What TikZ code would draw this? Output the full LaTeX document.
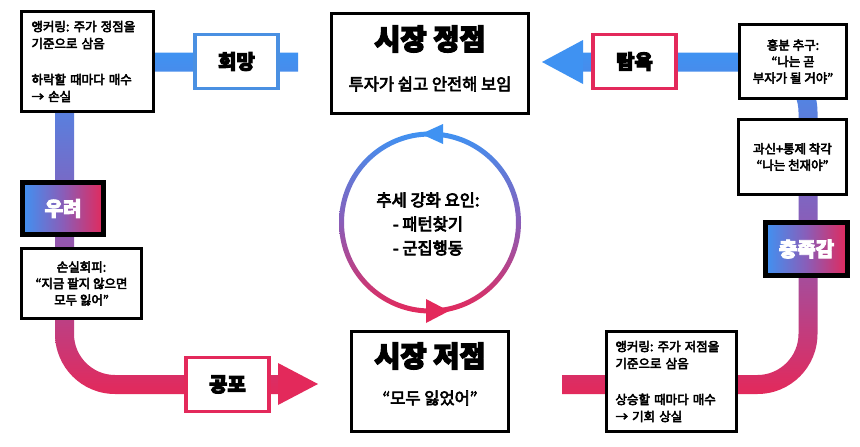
\documentclass[tikz,border=0pt]{standalone}
\usepackage{fontspec}
\setmainfont{Noto Sans CJK KR}
\newcommand\stk[1]{\special{pdf:literal direct #1 w 2 Tr}}
\newcommand\unstk{\special{pdf:literal direct 0 Tr}}
\newcommand\wstk[1]{\special{pdf:literal direct 1 G #1 w 2 Tr}}
\newcommand\unwstk{\special{pdf:literal direct 0 Tr 0 G}}
\definecolor{cblue}{HTML}{3F92F2}
\definecolor{cpurple}{HTML}{8A5DB8}
\definecolor{cred}{HTML}{E3295B}
\definecolor{hblue}{HTML}{4A90E2}
\frenchspacing
\begin{document}
\begin{tikzpicture}[x=1pt,y=-1pt,
  box/.style={draw=black, line width=3pt, fill=white, inner sep=0pt},
  note/.style={box, font=\fontsize{12.5}{17}\selectfont\stk{0.5}},
  cnote/.style={box, align=center, font=\fontsize{12.5}{16.5}\selectfont\stk{0.5}},
  lbl/.style={fill=white, line width=3.5pt, inner sep=0pt, minimum width=83, minimum height=54,
    font=\bfseries\fontsize{20}{24}\selectfont\stk{1.0}},
  gbox/.style={draw=black, line width=5pt, inner sep=0pt, left color=cblue, right color=cred,
    middle color=cpurple, text=white, font=\bfseries\fontsize{20}{24}\selectfont\wstk{0.9}},
  title/.style={font=\bfseries\fontsize{28.5}{30}\selectfont\stk{1.3}, inner sep=0pt},
  sub/.style={font=\fontsize{16.5}{20}\selectfont\stk{0.6}, inner sep=0pt},
  band/.style={top color=cblue, bottom color=cred, middle color=cpurple}
]
\useasboundingbox (0,0) rectangle (860,447);
\fill[white] (0,0) rectangle (860,447);

% left band
\shade[band] (298,52.5) -- (55,52.5) -- (55,334) .. controls (55,367.1) and (81.9,394) .. (115,394)
  -- (280,394) -- (280,375) -- (115,375) .. controls (92.4,375) and (74,356.6) .. (74,334)
  -- (74,71.5) -- (298,71.5) -- cycle;
% right band
\shade[band] (583,52.5) -- (758,52.5) .. controls (790.9,52.5) and (817.5,79.1) .. (817.5,112)
  -- (817.5,334) .. controls (817.5,367.1) and (790.6,394) .. (757.5,394)
  -- (562,394) -- (562,375) -- (757.5,375) .. controls (780.1,375) and (798.5,356.4) .. (798.5,334)
  -- (798.5,112) .. controls (798.5,89.6) and (780.4,71.5) .. (758,71.5) -- (583,71.5) -- cycle;

% arrow heads
\fill[cblue] (542,62) -- (583,40) -- (583,84) -- cycle;
\fill[cred] (318,384) -- (278,363) -- (278,405) -- cycle;

% centre cycle
\shade[band, even odd rule] (430,222.5) circle (91) (430,222.5) circle (86);
\fill[cblue] (421,134) -- (443,124) -- (443,144) -- cycle;
\fill[cred] (449,311) -- (426,299) -- (426,323) -- cycle;
\node[align=center, font=\fontsize{16.5}{24}\selectfont\stk{0.75}] (trend) at (428,224)
  {추세 강화 요인:\\- 패턴찾기\\- 군집행동\unstk};

% main boxes
\node[box, minimum width=197, minimum height=100] (peak) at (430,63.5) {};
\node[title] (peakt) at (430,39) {시장 정점\unstk};
\node[sub] (peaks) at (430,84) {투자가 쉽고 안전해 보임\unstk};
\node[box, minimum width=157, minimum height=100] (low) at (430,381.5) {};
\node[title] (lowt) at (430,356) {시장 저점\unstk};
\node[sub] (lows) at (430,398) {“모두 잃었어”\unstk};

% notes
\node[note, minimum width=132, minimum height=100, text width=112, align=left] (tl) at (87.5,61.5)
  {앵커링: 주가 정점을\\기준으로 삼음\\[19pt]하락할 때마다 매수\\→ 손실\unstk};
\node[note, minimum width=130, minimum height=100, text width=112, align=left] (br) at (671.5,381.5)
  {앵커링: 주가 저점을\\기준으로 삼음\\[19pt]상승할 때마다 매수\\→ 기회 상실\unstk};
\node[cnote, minimum width=107, minimum height=74] (tr) at (793,61.5)
  {흥분 추구:\\“나는 곧\\부자가 될 거야”\unstk};
\node[cnote, minimum width=108, minimum height=75] (r2) at (792.5,157)
  {과신+통제 착각\\“나는 천재야”\unstk};
\node[cnote, minimum width=120, minimum height=70] (loss) at (81.5,283.5)
  {손실회피:\\“지금 팔지 않으면\\모두 잃어”\unstk};

% labels
\node[lbl, draw=hblue] (hope) at (236.5,61.5) {희망\unstk};
\node[lbl, draw=cred] (greed) at (634.5,61.5) {탐욕\unstk};
\node[lbl, draw=cred] (fear) at (227.5,384.5) {공포\unstk};
\node[gbox, minimum width=81, minimum height=52] (worry) at (63,208.5) {우려\unwstk};
\node[gbox, minimum width=82, minimum height=53] (sat) at (806.5,249) {충족감\unwstk};
\end{tikzpicture}
\end{document}
